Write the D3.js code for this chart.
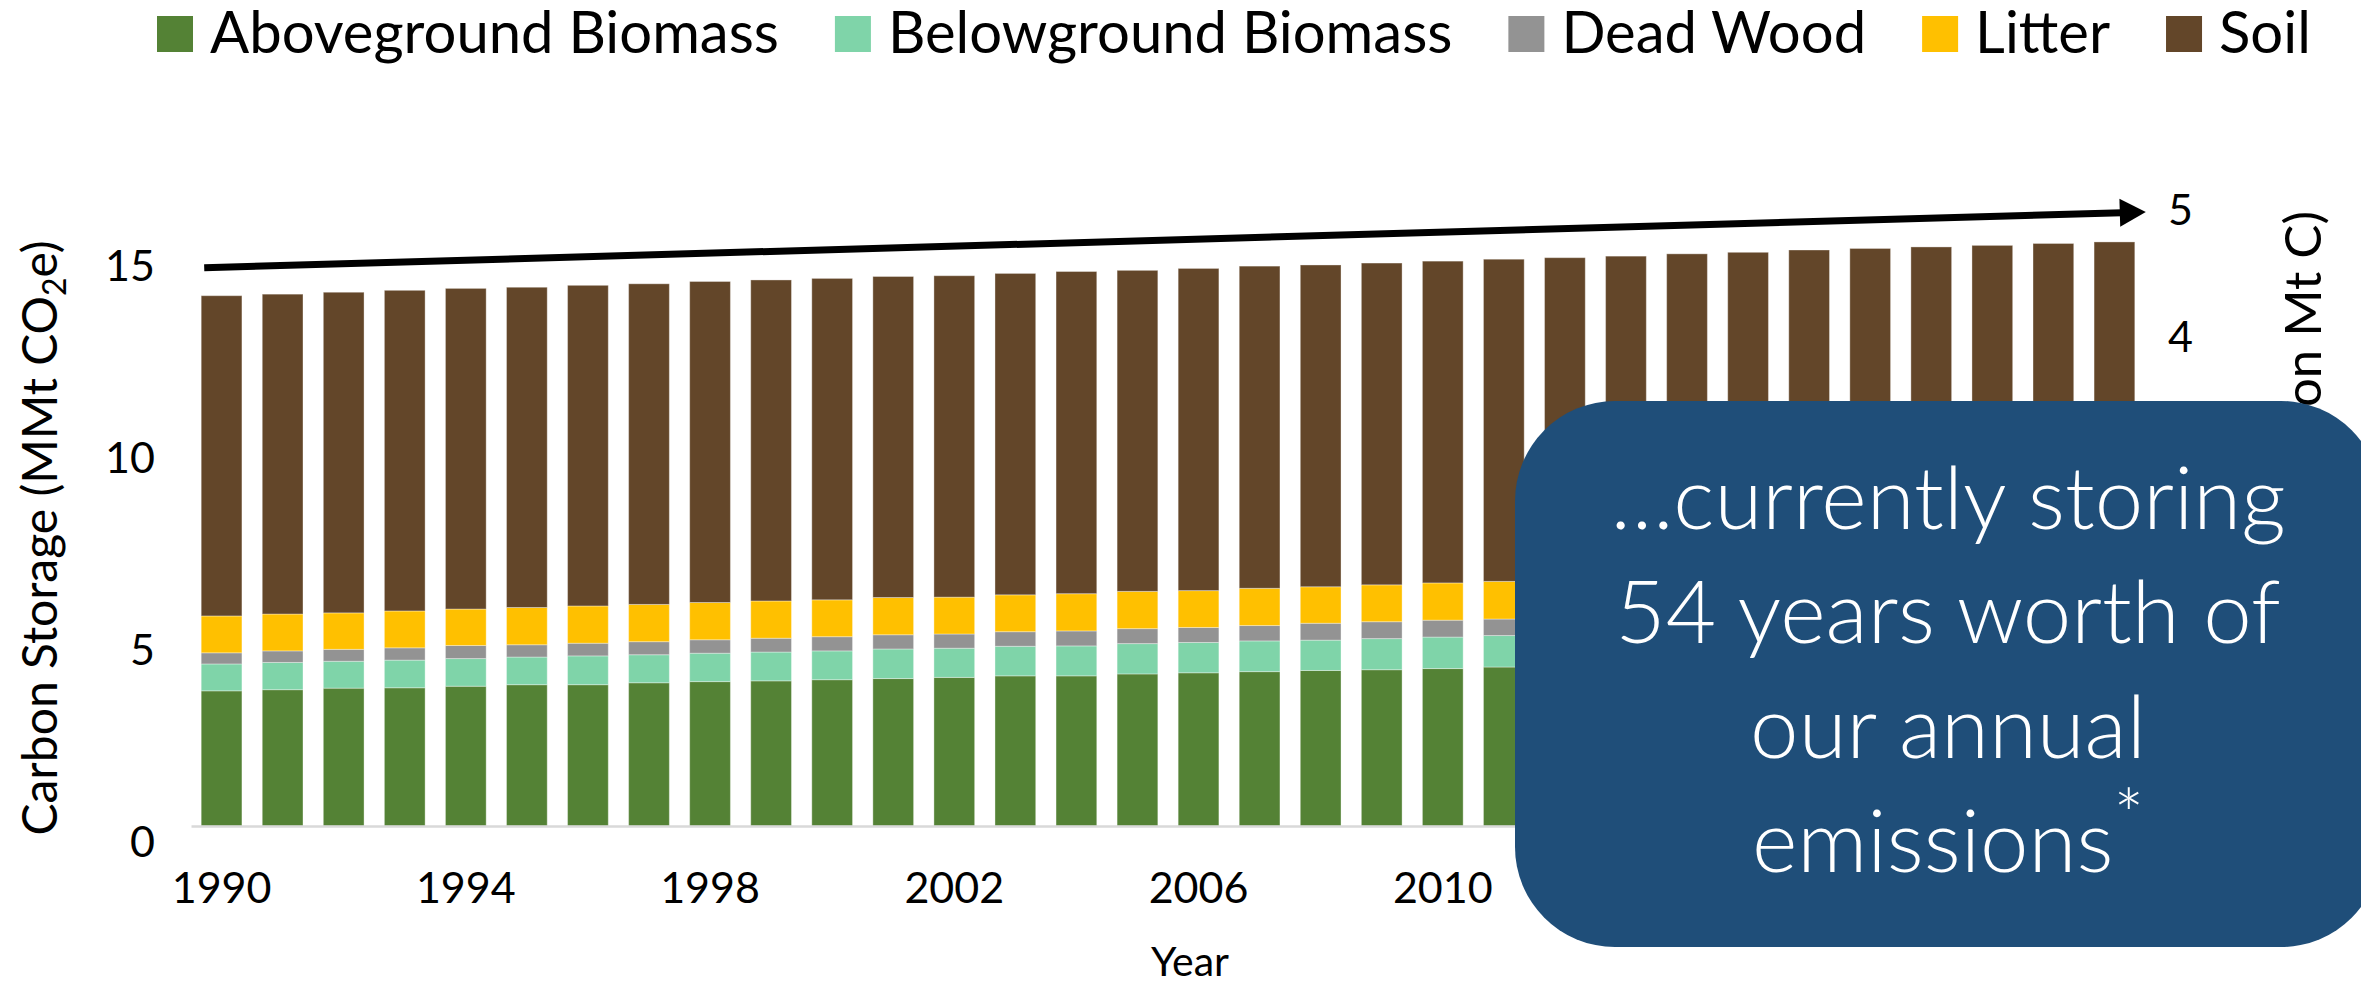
<!DOCTYPE html>
<html>
<head>
<meta charset="utf-8">
<script src="https://cdn.jsdelivr.net/npm/d3@7/dist/d3.min.js"></script>
<style>
  body { margin: 0; background: #fff; }
  svg { display: block; font-family: Lato, 'Open Sans', sans-serif; }
</style>
</head>
<body>
<div class="chart-wrapper"></div>
<script>
// ---- data (MMt CO2e) ----
const years = ['1990','1991','1992','1993','1994','1995','1996','1997','1998','1999',
  '2000','2001','2002','2003','2004','2005','2006','2007','2008','2009',
  '2010','2011','2012','2013','2014','2015','2016','2017','2018','2019','2020','2021']

const aboveground = [3.52,3.55,3.59,3.60,3.64,3.68,3.68,3.73,3.76,3.78,3.81,3.84,3.87,3.91,3.91,3.96,
  3.99,4.02,4.05,4.07,4.10,4.14,4.17,4.20,4.24,4.27,4.31,4.34,4.37,4.40,4.44,4.47]
const belowground = [0.70,0.71,0.70,0.72,0.72,0.72,0.75,0.73,0.74,0.75,0.75,0.77,0.76,0.77,0.78,0.79,
  0.79,0.80,0.79,0.81,0.82,0.82,0.83,0.84,0.84,0.85,0.86,0.86,0.87,0.88,0.88,0.89]
const deadWood = [0.29,0.30,0.31,0.32,0.34,0.32,0.33,0.34,0.35,0.36,0.37,0.37,0.37,0.38,0.39,0.39,
  0.39,0.40,0.44,0.44,0.44,0.43,0.44,0.44,0.45,0.45,0.46,0.46,0.46,0.47,0.47,0.48]
const litter = [0.96,0.96,0.95,0.96,0.95,0.97,0.97,0.97,0.97,0.97,0.96,0.97,0.96,0.96,0.97,0.97,
  0.96,0.97,0.95,0.96,0.97,0.98,0.97,0.97,0.97,0.97,0.97,0.98,0.98,0.98,0.98,0.98]
const soil = [8.34,8.33,8.35,8.35,8.35,8.34,8.35,8.35,8.36,8.36,8.37,8.36,8.37,8.37,8.39,8.36,
  8.39,8.39,8.38,8.38,8.38,8.39,8.39,8.39,8.40,8.40,8.40,8.40,8.40,8.39,8.40,8.39]

const seriesNames = ['Aboveground Biomass','Belowground Biomass','Dead Wood','Litter','Soil']
const seriesColors = ['#548235','#7fd4a9','#939393','#ffc000','#634629']

// only the tick labels that are not hidden behind the callout
const leftTicks = [0, 5, 10, 15]
const rightTicks = [4, 5]
const yearTicks = ['1990','1994','1998','2002','2006','2010']

// trend arrow: [year, value] at each end
const arrowFrom = ['1990', 14.54]
const arrowTo = ['2021', 15.99]

const calloutLines = ['\u2026currently storing', '54 years worth of', 'our annual', 'emissions']

// ---- layout ----
const W = 2361, H = 984
const baseY = 826
const labelShift = 17

const rows = years.map((yr, i) => ({
  year: yr,
  'Aboveground Biomass': aboveground[i],
  'Belowground Biomass': belowground[i],
  'Dead Wood': deadWood[i],
  'Litter': litter[i],
  'Soil': soil[i]
}))

const stacked = d3.stack().keys(seriesNames)(rows)

const svg = d3.select('.chart-wrapper').append('svg')
  .attr('width', W)
  .attr('height', H)
  .attr('viewBox', [0, 0, W, H])

let xScale = d3.scaleBand()
  .domain(years)
  .range([191, 2145])
  .paddingInner(0.333)
  .paddingOuter(0.167)

let yScale = d3.scaleLinear()
  .domain([0, 15])
  .range([baseY, 250])

let yRight = d3.scaleLinear()
  .domain([0, 5])
  .range([baseY, 194])

let colorScale = d3.scaleOrdinal()
  .domain(seriesNames)
  .range(seriesColors)

// bars
svg.append('g')
  .selectAll('g')
  .data(stacked)
  .enter()
  .append('g')
  .attr('fill', d => colorScale(d.key))
  .selectAll('rect')
  .data(d => d)
  .enter()
  .append('rect')
  .attr('x', d => xScale(d.data.year))
  .attr('width', xScale.bandwidth())
  .attr('y', d => yScale(d[1]))
  .attr('height', d => yScale(d[0]) - yScale(d[1]))
  .attr('stroke', 'rgba(255,255,255,0.35)')
  .attr('stroke-width', 1)

// x axis
const xAxis = svg.append('g')
  .attr('transform', 'translate(0,' + baseY + ')')
  .call(d3.axisBottom(xScale)
    .tickValues(yearTicks)
    .tickSize(0)
    .tickSizeOuter(0)
    .tickPadding(46)
  )

xAxis.select('.domain')
  .attr('stroke', '#d9d9d9')
  .attr('stroke-width', 2.5)

xAxis.selectAll('.tick text')
  .attr('fill', '#000')
  .attr('font-size', 43)
  .attr('font-family', 'Lato')

// left axis
const yAxis = svg.append('g')
  .attr('transform', 'translate(155,0)')
  .call(d3.axisLeft(yScale)
    .tickValues(leftTicks)
    .tickSize(0)
    .tickPadding(0)
  )

yAxis.select('.domain').remove()

yAxis.selectAll('.tick text')
  .attr('y', labelShift)
  .attr('fill', '#000')
  .attr('font-size', 43)
  .attr('font-family', 'Lato')

// right axis
const yAxisR = svg.append('g')
  .attr('transform', 'translate(2168,0)')
  .call(d3.axisRight(yRight)
    .tickValues(rightTicks)
    .tickFormat(d3.format('d'))
    .tickSize(0)
    .tickPadding(0)
  )

yAxisR.select('.domain').remove()

yAxisR.selectAll('.tick text')
  .attr('y', labelShift)
  .attr('fill', '#000')
  .attr('font-size', 43)
  .attr('font-family', 'Lato')

// axis titles
const yTitle = svg.append('text')
  .attr('transform', 'translate(57,538) rotate(-90)')
  .attr('text-anchor', 'middle')
  .attr('font-size', 48)
  .attr('fill', '#000')

yTitle.append('tspan').text('Carbon Storage (MMt CO')
yTitle.append('tspan').text('2').attr('font-size', 32).attr('dy', 9)
yTitle.append('tspan').text('e)').attr('dy', -9)

svg.append('text')
  .attr('transform', 'translate(2321,211) rotate(-90)')
  .attr('text-anchor', 'end')
  .attr('font-size', 51)
  .attr('fill', '#000')
  .text('Carbon Storage (Million Mt C)')

svg.append('text')
  .attr('x', 1190)
  .attr('y', 976)
  .attr('text-anchor', 'middle')
  .attr('font-size', 41)
  .attr('fill', '#000')
  .text('Year')

// trend arrow
const ax1 = xScale(arrowFrom[0]) + 3
const ay1 = yScale(arrowFrom[1])
const ax2 = xScale(arrowTo[0]) + xScale.bandwidth() + 11
const ay2 = yScale(arrowTo[1])
const ang = Math.atan2(ay2 - ay1, ax2 - ax1)
const headL = 26, headW = 14
const bx = ax2 - headL * Math.cos(ang)
const by = ay2 - headL * Math.sin(ang)

svg.append('path')
  .attr('d', d3.line()([[ax1, ay1], [bx + 2 * Math.cos(ang), by + 2 * Math.sin(ang)]]))
  .attr('stroke', '#000')
  .attr('stroke-width', 7)
  .attr('fill', 'none')

svg.append('path')
  .attr('d', d3.line()([
    [ax2, ay2],
    [bx - headW * Math.sin(ang), by + headW * Math.cos(ang)],
    [bx + headW * Math.sin(ang), by - headW * Math.cos(ang)]
  ]) + 'Z')
  .attr('fill', '#000')

// legend
const legend = svg.append('g')
let lx = 157
seriesNames.forEach((name, i) => {
  legend.append('rect')
    .attr('x', lx)
    .attr('y', 16)
    .attr('width', 36)
    .attr('height', 36)
    .attr('fill', seriesColors[i])
  const t = legend.append('text')
    .attr('x', lx + 53)
    .attr('y', 53)
    .attr('font-size', 58)
    .attr('fill', '#000')
    .text(name)
  lx = lx + 53 + t.node().getComputedTextLength() + 56
})

// callout box
const box = svg.append('g')

box.append('rect')
  .attr('x', 1515)
  .attr('y', 401)
  .attr('width', 866)
  .attr('height', 546)
  .attr('rx', 100)
  .attr('ry', 100)
  .attr('fill', '#1f4e79')

calloutLines.forEach((line, i) => {
  const t = box.append('text')
    .attr('x', 1948)
    .attr('y', 529 + i * 114.3)
    .attr('text-anchor', 'middle')
    .attr('font-size', 87)
    .attr('font-weight', 300)
    .attr('fill', '#fff')
    .text(line)
  if (i == calloutLines.length - 1) {
    t.append('tspan')
      .attr('font-size', 72)
      .attr('dy', -30)
      .text('*')
  }
})
</script>
</body>
</html>
